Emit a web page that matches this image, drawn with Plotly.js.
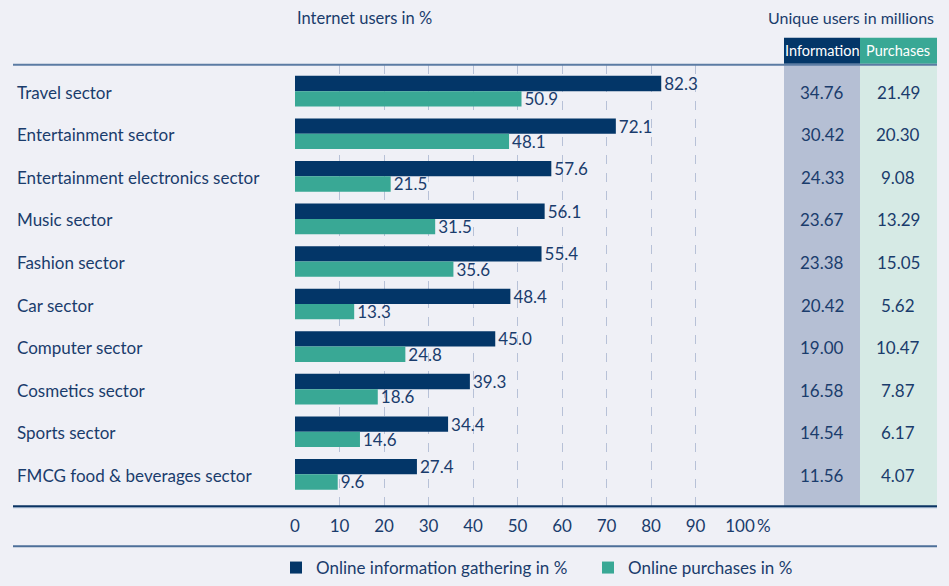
<!DOCTYPE html>
<html>
<head>
<meta charset="utf-8">
<script src="https://cdn.plot.ly/plotly-3.0.1.min.js"></script>
<style>
  html, body { margin: 0; padding: 0; background: #eff0f6; }
  #chart { width: 949px; height: 586px; }
</style>
</head>
<body>
<div id="chart"></div>
<script>
// Sector reach: share of internet users gathering information / buying online
const sectors = [
  "Travel sector",
  "Entertainment sector",
  "Entertainment electronics sector",
  "Music sector",
  "Fashion sector",
  "Car sector",
  "Computer sector",
  "Cosmetics sector",
  "Sports sector",
  "FMCG food & beverages sector"
];
const infoPct = [82.3, 72.1, 57.6, 56.1, 55.4, 48.4, 45.0, 39.3, 34.4, 27.4];
const buyPct  = [50.9, 48.1, 21.5, 31.5, 35.6, 13.3, 24.8, 18.6, 14.6, 9.6];
const infoMillions = ["34.76", "30.42", "24.33", "23.67", "23.38", "20.42", "19.00", "16.58", "14.54", "11.56"];
const buyMillions  = ["21.49", "20.30", "9.08", "13.29", "15.05", "5.62", "10.47", "7.87", "6.17", "4.07"];
const xTicks = [0, 10, 20, 30, 40, 50, 60, 70, 80, 90, 100];
const seriesNames = ["Online information gathering in %", "Online purchases in %"];

const W = 949, H = 586;
const px = v => v / W;          // horizontal pixel -> paper
const py = v => 1 - v / H;      // vertical pixel -> paper

const NAVY = "#033668";
const TEAL = "#39a895";
const TEXT = "#1a3c6c";
const FONT = "Lato, 'Open Sans', sans-serif";
const FS = 17;

const traces = [
  {
    type: "bar", orientation: "h", name: seriesNames[0],
    y: sectors, x: infoPct,
    marker: { color: NAVY },
    texttemplate: "%{x:.1f}", textposition: "outside",
    textfont: { family: FONT, size: FS, color: TEXT },
    constraintext: "none", cliponaxis: false, hoverinfo: "skip"
  },
  {
    type: "bar", orientation: "h", name: seriesNames[1],
    y: sectors, x: buyPct,
    marker: { color: TEAL },
    texttemplate: "%{x:.1f}", textposition: "outside",
    textfont: { family: FONT, size: FS, color: TEXT },
    constraintext: "none", cliponaxis: false, hoverinfo: "skip"
  }
];

const annotations = [];
// sector names (left aligned) and the two table columns
sectors.forEach((s, i) => {
  annotations.push({ xref: "paper", yref: "y", x: px(15), y: s, text: s,
    xanchor: "left", yanchor: "middle", showarrow: false, yshift: -1,
    font: { family: FONT, size: FS, color: TEXT } });
  annotations.push({ xref: "paper", yref: "y", x: px(822), y: s, text: infoMillions[i],
    xanchor: "center", yanchor: "middle", showarrow: false, yshift: -1,
    font: { family: FONT, size: FS, color: TEXT } });
  annotations.push({ xref: "paper", yref: "y", x: px(898), y: s, text: buyMillions[i],
    xanchor: "center", yanchor: "middle", showarrow: false, yshift: -1,
    font: { family: FONT, size: FS, color: TEXT } });
});
// headings
annotations.push({ xref: "paper", yref: "paper", x: px(295), y: py(18), text: "Internet users in %",
  xanchor: "left", yanchor: "middle", showarrow: false, font: { family: FONT, size: 16.5, color: TEXT } });
annotations.push({ xref: "paper", yref: "paper", x: px(936), y: py(18), text: "Unique users in millions",
  xanchor: "right", yanchor: "middle", showarrow: false, font: { family: FONT, size: 16, color: TEXT } });
annotations.push({ xref: "paper", yref: "paper", x: px(822), y: py(51), text: "Information",
  xanchor: "center", yanchor: "middle", showarrow: false, font: { family: FONT, size: 14.5, color: "#ffffff" } });
annotations.push({ xref: "paper", yref: "paper", x: px(898), y: py(51), text: "Purchases",
  xanchor: "center", yanchor: "middle", showarrow: false, font: { family: FONT, size: 14.5, color: "#ffffff" } });
// percent sign after the last tick
annotations.push({ xref: "x", yref: "paper", x: 100, y: py(527), text: "%", xshift: 15,
  xanchor: "left", yanchor: "middle", showarrow: false, font: { family: FONT, size: FS, color: TEXT } });

const shapes = [
  // table column backgrounds
  { type: "rect", xref: "paper", yref: "paper", x0: px(784), x1: px(860), y0: py(508), y1: py(65),
    fillcolor: "#b5bfd4", line: { width: 0 }, layer: "below" },
  { type: "rect", xref: "paper", yref: "paper", x0: px(860), x1: px(937), y0: py(508), y1: py(65),
    fillcolor: "#d6eae5", line: { width: 0 }, layer: "below" },
  // table headers
  { type: "rect", xref: "paper", yref: "paper", x0: px(784), x1: px(860), y0: py(64), y1: py(38),
    fillcolor: "#033668", line: { width: 0 } },
  { type: "rect", xref: "paper", yref: "paper", x0: px(860), x1: px(937), y0: py(64), y1: py(38),
    fillcolor: "#39a895", line: { width: 0 } },
  // rules
  { type: "line", xref: "paper", yref: "paper", x0: px(13), x1: px(937), y0: py(65), y1: py(65),
    line: { color: "#5b7ba3", width: 2 } },
  { type: "line", xref: "paper", yref: "paper", x0: px(13), x1: px(937), y0: py(509.5), y1: py(509.5),
    line: { color: "#a9bbd4", width: 1 } },
  { type: "line", xref: "paper", yref: "paper", x0: px(13), x1: px(937), y0: py(508), y1: py(508),
    line: { color: "#0b3463", width: 2 } },
  { type: "line", xref: "paper", yref: "paper", x0: px(13), x1: px(937), y0: py(548), y1: py(548),
    line: { color: "#4d6f99", width: 2 } }
];

const layout = {
  width: W, height: H,
  margin: { l: 0, r: 0, t: 0, b: 0 },
  paper_bgcolor: "#eff0f6", plot_bgcolor: "rgba(0,0,0,0)",
  font: { family: FONT, size: FS, color: TEXT },
  barmode: "group", bargap: 0.28, bargroupgap: 0,
  xaxis: {
    domain: [px(295), px(740)], range: [0, 100], fixedrange: true,
    tickvals: xTicks, ticktext: xTicks.map(String),
    showgrid: true, gridcolor: "#b7c1d7", griddash: "dash", gridwidth: 1,
    zeroline: false, showline: false, ticks: "",
    ticklabelstandoff: 8,
    tickfont: { family: FONT, size: FS, color: TEXT }
  },
  yaxis: {
    domain: [py(508), py(65)], type: "category",
    range: [9.75, -0.62], fixedrange: true,
    showticklabels: false, showgrid: false, zeroline: false, showline: false, ticks: ""
  },
  showlegend: true,
  legend: {
    orientation: "h", x: px(276), y: py(570), xanchor: "left", yanchor: "middle",
    font: { family: FONT, size: FS, color: TEXT },
    bgcolor: "rgba(0,0,0,0)", entrywidth: 267, entrywidthmode: "pixels",
    traceorder: "normal"
  },
  annotations: annotations,
  shapes: shapes
};

Plotly.newPlot("chart", traces, layout, { displayModeBar: false, staticPlot: true });
</script>
</body>
</html>
